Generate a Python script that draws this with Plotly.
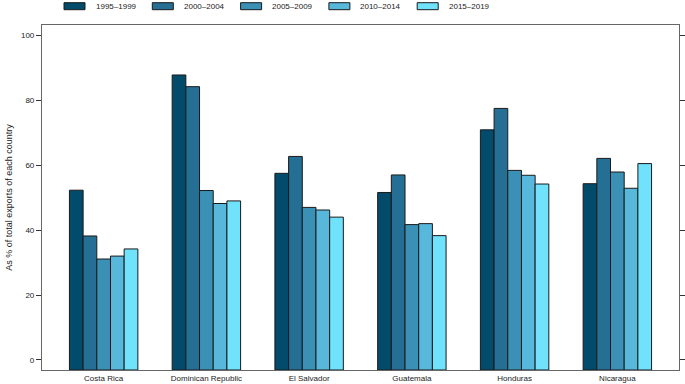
import plotly.graph_objects as go

countries = ["Costa Rica", "Dominican Republic", "El Salvador", "Guatemala", "Honduras", "Nicaragua"]
periods = ["1995–1999", "2000–2004", "2005–2009", "2010–2014", "2015–2019"]
colors = ["#024b6b", "#246f93", "#3b90b6", "#58b8dc", "#70e2fc"]

v_1995_1999 = [52.3, 87.8, 57.5, 51.6, 70.9, 54.3]
v_2000_2004 = [38.2, 84.2, 62.7, 57.0, 77.5, 62.1]
v_2005_2009 = [31.1, 52.2, 47.0, 41.7, 58.4, 57.9]
v_2010_2014 = [32.0, 48.2, 46.2, 42.0, 56.9, 52.9]
v_2015_2019 = [34.2, 49.0, 44.0, 38.3, 54.2, 60.5]
series = [v_1995_1999, v_2000_2004, v_2005_2009, v_2010_2014, v_2015_2019]

y_ticks = [0, 20, 40, 60, 80, 100]
Y_MIN, Y_MAX = -3.1, 103.2

W, H = 685, 384
ML, MR, MT, MB = 42, 6, 25, 14
pw = W - ML - MR
ph = H - MT - MB

fig = go.Figure()
for name, vals, col in zip(periods, series, colors):
    fig.add_trace(go.Bar(
        x=countries, y=[v - Y_MIN for v in vals], base=Y_MIN, name=name,
        marker=dict(color=col, line=dict(color="#1a1a1a", width=1)),
        showlegend=False,
    ))

# manual legend
shapes = []
annotations = []
sw_left0 = 64
step = 88.3
for i, (name, col) in enumerate(zip(periods, colors)):
    x0 = sw_left0 + i * step
    x1 = x0 + 21
    shapes.append(dict(type="rect", xref="paper", yref="paper",
                       x0=(x0 - ML) / pw, x1=(x1 - ML) / pw,
                       y0=1 + (MT - 9.7) / ph, y1=1 + (MT - 2.7) / ph,
                       fillcolor=col, line=dict(color="#1a1a1a", width=1)))
    annotations.append(dict(xref="paper", yref="paper",
                            x=(x1 + 8.5 - ML) / pw, y=1 + (MT - 6.2) / ph,
                            text=name, showarrow=False, xanchor="left", yanchor="middle",
                            font=dict(size=8, color="#222")))

fig.update_layout(
    width=W, height=H,
    margin=dict(l=ML, r=MR, t=MT, b=MB),
    paper_bgcolor="white", plot_bgcolor="white",
    barmode="group", bargap=0.334, bargroupgap=0,
    font=dict(family="Liberation Sans, Arial, sans-serif", size=8, color="#222"),
    shapes=shapes, annotations=annotations,
    xaxis=dict(range=[-0.6, 5.6], showline=True, linecolor="#666", linewidth=1.2, mirror=True,
               ticks="", showgrid=False, tickfont=dict(size=8, color="#222"), automargin=False),
    yaxis=dict(range=[Y_MIN, Y_MAX], tickvals=y_ticks, showline=True, linecolor="#666", linewidth=1.2,
               mirror="ticks", ticks="outside", ticklen=5, tickcolor="#333", showgrid=False,
               zeroline=False, tickfont=dict(size=8, color="#222"), automargin=False,
               title=dict(text="As % of total exports of each country", font=dict(size=9, color="#222"), standoff=6)),
)

fig.write_html("out.html", config={"displayModeBar": False},
               post_script="document.body.style.margin='0';document.body.style.overflow='hidden';")
